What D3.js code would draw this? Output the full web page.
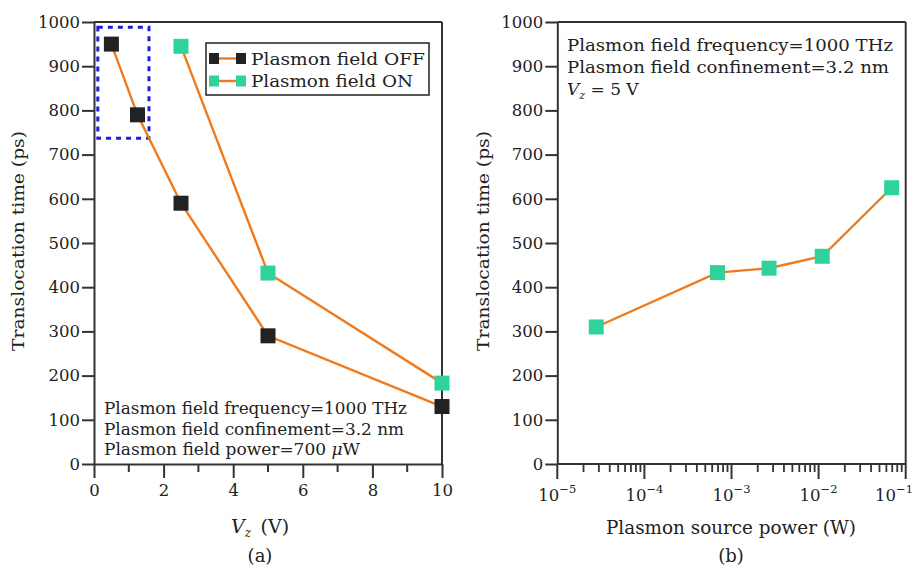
<!DOCTYPE html>
<html><head><meta charset="utf-8">
<script src="https://cdn.jsdelivr.net/npm/d3@7"></script>
<style>body{margin:0;background:#fff}svg{display:block}text{font-family:"DejaVu Serif",serif;fill:#222}</style>
</head><body><svg id="c" width="915" height="568"></svg>
<script>
// ---- data ----
const vzOff = [0.5, 1.25, 2.5, 5, 10];
const timeOff = [950, 790, 590, 290, 130];
const vzOn = [2.5, 5, 10];
const timeOn = [945, 432, 183];
const power = [2.8e-5, 6.9e-4, 2.7e-3, 1.1e-2, 6.9e-2];
const timePower = [310, 433, 443, 470, 625];
const yTicks = [0,100,200,300,400,500,600,700,800,900,1000];
const vzMajor = [0,2,4,6,8,10];
const vzMinor = [1,3,5,7,9];
const logExp = [-5,-4,-3,-2,-1];
const legendLabels = ["Plasmon field OFF", "Plasmon field ON"];
const notesA = ["Plasmon field frequency=1000 THz","Plasmon field confinement=3.2 nm","Plasmon field power=700 μW"];
const notesB = ["Plasmon field frequency=1000 THz","Plasmon field confinement=3.2 nm"];

const ORANGE="#f07a1e", BLACK="#222", GREEN="#2fd39a", AX="#333";
const svg = d3.select("#c");
const yTop=22, yBot=464;

function frame(g,x0,x1){
  g.append("line").attr("x1",x0).attr("x2",x1).attr("y1",yTop).attr("y2",yTop).attr("stroke",AX).attr("stroke-width",2);
  g.append("line").attr("x1",x1).attr("x2",x1).attr("y1",yTop).attr("y2",yBot).attr("stroke",AX).attr("stroke-width",2);
}
function yAxis(g,y,x0){
  const ax = d3.axisLeft(y).tickValues(yTicks).tickFormat(d3.format("d")).tickSize(12).tickSizeOuter(0).tickPadding(2);
  const a = g.append("g").attr("transform",`translate(${x0},0)`).call(ax);
  a.select(".domain").attr("stroke",AX).attr("stroke-width",2);
  a.selectAll(".tick line").attr("stroke",AX).attr("stroke-width",2);
  a.selectAll(".tick text").attr("font-size",16.5).attr("font-family","DejaVu Serif").attr("fill","#222");
}
function squares(g,xs,ys,x,y,color,s){
  g.selectAll(null).data(xs).enter().append("rect")
   .attr("x",(d)=>x(d)-s/2).attr("y",(d,i)=>y(ys[i])-s/2).attr("width",s).attr("height",s).attr("fill",color);
}
function linePath(g,xs,ys,x,y){
  g.append("path").datum(xs.map((d,i)=>[d,ys[i]]))
   .attr("d",d3.line().x(d=>x(d[0])).y(d=>y(d[1])))
   .attr("fill","none").attr("stroke",ORANGE).attr("stroke-width",2.4);
}
function fitText(sel,w){ sel.attr("textLength",w).attr("lengthAdjust","spacingAndGlyphs"); }

// ---------- Panel (a) ----------
const xa = d3.scaleLinear().domain([0,10]).range([94,442]);
const ya = d3.scaleLinear().domain([0,1000]).range([yBot,yTop]);
const ga = svg.append("g");
frame(ga,94,442);
const xaxA = ga.append("g").attr("transform",`translate(0,${yBot})`)
  .call(d3.axisBottom(xa).tickValues(vzMajor).tickSize(14).tickSizeOuter(0).tickPadding(6));
xaxA.select(".domain").attr("stroke",AX).attr("stroke-width",2);
xaxA.selectAll(".tick line").attr("stroke",AX).attr("stroke-width",2);
xaxA.selectAll(".tick text").attr("font-size",16.5).attr("font-family","DejaVu Serif").attr("fill","#222");
ga.selectAll(null).data(vzMinor).enter().append("line")
  .attr("x1",d=>xa(d)).attr("x2",d=>xa(d)).attr("y1",yBot).attr("y2",yBot+8).attr("stroke",AX).attr("stroke-width",2);
yAxis(ga,ya,94);
const hb = {x0:0.11,x1:1.58,y0:737,y1:988};
ga.append("rect").attr("x",xa(hb.x0)).attr("y",ya(hb.y1)).attr("width",xa(hb.x1)-xa(hb.x0)).attr("height",ya(hb.y0)-ya(hb.y1))
  .attr("fill","none").attr("stroke","#1d1de0").attr("stroke-width",3).attr("stroke-dasharray","5,5");
linePath(ga,vzOff,timeOff,xa,ya);
linePath(ga,vzOn,timeOn,xa,ya);
squares(ga,vzOff,timeOff,xa,ya,BLACK,15);
squares(ga,vzOn,timeOn,xa,ya,GREEN,15);
const lg = ga.append("g");
lg.append("rect").attr("x",206).attr("y",43).attr("width",223).attr("height",52).attr("fill","#fff").attr("stroke","#222").attr("stroke-width",1.5);
[[BLACK,58.5],[GREEN,81]].forEach(([c,yy],i)=>{
  lg.append("line").attr("x1",214).attr("x2",241).attr("y1",yy).attr("y2",yy).attr("stroke",ORANGE).attr("stroke-width",2.4);
  lg.append("rect").attr("x",209).attr("y",yy-5.5).attr("width",10).attr("height",11).attr("fill",c);
  lg.append("rect").attr("x",236).attr("y",yy-5.5).attr("width",10).attr("height",11).attr("fill",c);
  fitText(lg.append("text").attr("x",251).attr("y",yy+6).attr("font-size",17).text(legendLabels[i]), i===0?174:162);
});
notesA.forEach((t,i)=>{
  const tx = ga.append("text").attr("x",104).attr("y",414+i*20.5).attr("font-size",16);
  if(i===2){
    tx.append("tspan").text("Plasmon field power=700 ");
    tx.append("tspan").attr("font-style","italic").text("μ");
    tx.append("tspan").text("W");
    fitText(tx,256);
  } else { tx.text(t); fitText(tx, i===0?303:300); }
});
fitText(ga.append("text").attr("transform","translate(24,241) rotate(-90)").attr("text-anchor","middle").attr("font-size",17).text("Translocation time (ps)"),220);
const xl = ga.append("text").attr("x",260).attr("y",533).attr("text-anchor","middle").attr("font-size",19);
xl.append("tspan").attr("font-style","italic").text("V");
xl.append("tspan").attr("font-style","italic").attr("font-size",12).attr("dy",4).text("z");
xl.append("tspan").attr("dy",-4).text("\u2002(V)");
ga.append("text").attr("x",260).attr("y",562).attr("text-anchor","middle").attr("font-size",18).text("(a)");

// ---------- Panel (b) ----------
const xb = d3.scaleLog().domain([1e-5,1e-1]).range([557.3,905.7]);
const yb = d3.scaleLinear().domain([0,1000]).range([yBot,yTop]);
const gb = svg.append("g");
frame(gb,557.3,905.7);
gb.append("line").attr("x1",557.3).attr("x2",905.7).attr("y1",yBot).attr("y2",yBot).attr("stroke",AX).attr("stroke-width",2);
const minorLog = [];
logExp.slice(0,-1).forEach(e=>{ for(let k=2;k<=9;k++) minorLog.push(k*Math.pow(10,e)); });
gb.selectAll(null).data(minorLog).enter().append("line")
  .attr("x1",d=>xb(d)).attr("x2",d=>xb(d)).attr("y1",yBot).attr("y2",yBot+8).attr("stroke",AX).attr("stroke-width",1.8);
const majors = logExp.map(e=>Math.pow(10,e));
gb.selectAll(null).data(majors).enter().append("line")
  .attr("x1",d=>xb(d)).attr("x2",d=>xb(d)).attr("y1",yBot).attr("y2",yBot+15).attr("stroke",AX).attr("stroke-width",2);
logExp.forEach((e,i)=>{
  const last = i===logExp.length-1;
  const t = gb.append("text").attr("x",last?913:xb(majors[i])).attr("y",501).attr("text-anchor",last?"end":"middle").attr("font-size",16.5);
  t.append("tspan").text("10");
  t.append("tspan").attr("font-size",11.5).attr("dy",-8).text("\u2212"+Math.abs(e));
});
yAxis(gb,yb,557.3);
linePath(gb,power,timePower,xb,yb);
squares(gb,power,timePower,xb,yb,GREEN,15);
notesB.forEach((t,i)=>{
  fitText(gb.append("text").attr("x",567).attr("y",51+i*21.7).attr("font-size",17).text(t), i===0?326:322);
});
const vz = gb.append("text").attr("x",567).attr("y",94.5).attr("font-size",17);
vz.append("tspan").attr("font-style","italic").text("V");
vz.append("tspan").attr("font-style","italic").attr("font-size",11).attr("dy",4).text("z");
vz.append("tspan").attr("dy",-4).text(" = 5 V");
fitText(gb.append("text").attr("transform","translate(489,241) rotate(-90)").attr("text-anchor","middle").attr("font-size",17).text("Translocation time (ps)"),220);
fitText(gb.append("text").attr("x",731).attr("y",534).attr("text-anchor","middle").attr("font-size",18).text("Plasmon source power (W)"),250);
gb.append("text").attr("x",731).attr("y",562).attr("text-anchor","middle").attr("font-size",18).text("(b)");
</script></body></html>
